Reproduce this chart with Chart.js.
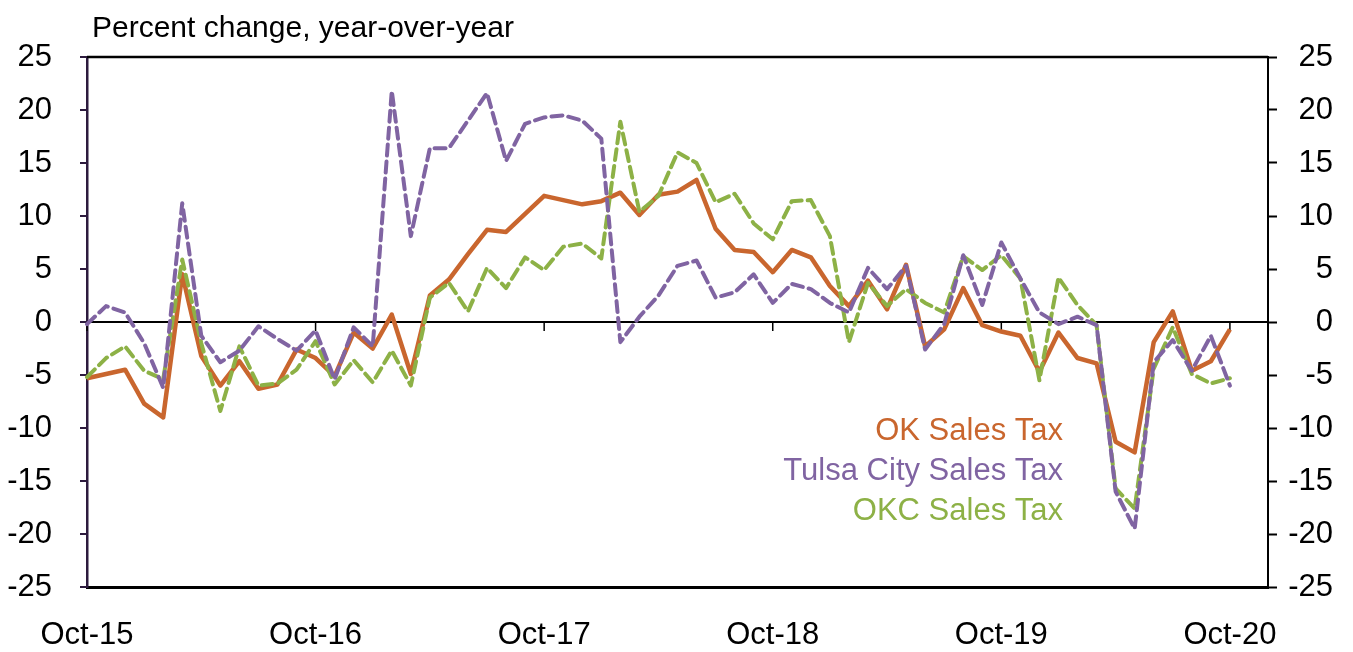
<!DOCTYPE html>
<html><head><meta charset="utf-8">
<script src="https://cdn.jsdelivr.net/npm/chart.js@4.4.0/dist/chart.umd.min.js"></script>
<style>html,body{margin:0;padding:0;background:#fff;}#wrap{width:1353px;height:652px;position:relative}</style>
</head><body><div id="wrap"><canvas id="c" width="1353" height="652"></canvas></div>
<script>
// ---- data ----
const MONTH_NAMES = ['Jan','Feb','Mar','Apr','May','Jun','Jul','Aug','Sep','Oct','Nov','Dec'];
const CATEGORIES = [];
for (let k = 0; k < 63; k++) { const m = (9 + k) % 12; const yr = 15 + Math.floor((9 + k) / 12); CATEGORIES.push(MONTH_NAMES[m] + '-' + yr); }
const SERIES_NAMES = ['OK Sales Tax', 'Tulsa City Sales Tax', 'OKC Sales Tax'];
const OK_SALES = [-5.3,-4.9,-4.5,-7.7,-9.0,4.5,-3.2,-6.0,-3.7,-6.3,-5.9,-2.6,-3.4,-5.1,-1.0,-2.5,0.7,-4.9,2.5,4.0,
  6.4,8.7,8.5,10.2,11.9,11.5,11.1,11.4,12.2,10.1,12.0,12.3,13.4,8.8,6.8,6.6,4.7,6.8,6.1,3.4,
  1.5,3.9,1.2,5.4,-2.3,-0.7,3.2,-0.3,-0.9,-1.3,-4.7,-1.0,-3.4,-3.9,-11.3,-12.3,-1.9,1.0,-4.6,-3.7,-0.7];
const TULSA_SALES = [-0.2,1.5,0.9,-2.0,-6.2,11.2,-1.3,-3.8,-2.7,-0.4,-1.6,-2.7,-0.8,-5.4,-0.5,-2.3,21.8,8.1,16.4,16.4,
  19.0,21.6,15.2,18.7,19.3,19.5,19.0,17.3,-1.9,0.5,2.5,5.3,5.8,2.3,2.8,4.5,1.8,3.6,3.1,1.8,
  0.9,5.1,3.1,5.3,-2.6,-0.2,6.3,1.6,7.5,4.1,0.9,-0.2,0.5,-0.3,-16.0,-19.5,-3.8,-1.7,-4.6,-1.3,-6.0];
const OKC_SALES = [-5.2,-3.4,-2.3,-4.6,-5.4,5.9,-2.0,-8.4,-2.3,-6.0,-5.8,-4.5,-1.8,-5.9,-3.6,-5.7,-2.7,-6.0,2.3,3.7,
  1.0,5.1,3.2,6.1,4.9,7.1,7.4,6.0,18.9,10.4,11.9,16.0,15.0,11.3,12.1,9.3,7.8,11.4,11.5,8.1,
  -1.9,3.7,1.5,3.1,1.8,0.9,6.2,4.9,6.3,4.1,-5.5,4.2,1.6,-0.3,-15.7,-17.6,-4.4,-0.5,-4.9,-5.8,-5.3];
const Y_MIN = -25, Y_MAX = 25, Y_STEP = 5;
const TITLE = 'Percent change, year-over-year';

// ---- styling ----
const COLORS = ['#C9662E', '#8064A2', '#8DB146'];
const FAM = "'Liberation Sans', Arial, sans-serif";
const TSIZE = 31;

const overlay = {
  id: 'overlay',
  beforeDatasetsDraw(chart){
    const {ctx, chartArea: a, scales: {x, y}} = chart;
    ctx.save();
    ctx.strokeStyle = '#000'; ctx.lineWidth = 2.5;
    ctx.beginPath(); ctx.moveTo(a.left, a.top); ctx.lineTo(a.right, a.top); ctx.stroke();
    const y0 = y.getPixelForValue(0);
    ctx.lineWidth = 1.5;
    ctx.beginPath();
    CATEGORIES.forEach((c, i) => {
      if (i % 12 === 0) { const px = x.getPixelForValue(i); ctx.moveTo(px, y0); ctx.lineTo(px, y0 + 9); }
    });
    ctx.stroke();
    ctx.restore();
  },
  afterDraw(chart){
    const {ctx} = chart;
    ctx.save();
    ctx.fillStyle = '#000';
    ctx.font = '30px ' + FAM;
    ctx.textAlign = 'left'; ctx.textBaseline = 'alphabetic';
    ctx.fillText(TITLE, 92, 37);
    ctx.font = '31px ' + FAM;
    ctx.textAlign = 'right';
    const base = [440, 480, 520];
    chart.data.datasets.forEach((ds, i) => {
      ctx.fillStyle = ds.borderColor;
      ctx.fillText(ds.label, 1063, base[i]);
    });
    ctx.restore();
  }
};

new Chart(document.getElementById('c'), {
  type: 'line',
  data: {
    labels: CATEGORIES,
    datasets: [
      {label: SERIES_NAMES[0], data: OK_SALES, borderColor: COLORS[0], borderWidth: 4.5, order: 3},
      {label: SERIES_NAMES[1], data: TULSA_SALES, borderColor: COLORS[1], borderWidth: 4, borderDash: [11, 6], borderCapStyle: 'round', order: 1},
      {label: SERIES_NAMES[2], data: OKC_SALES, borderColor: COLORS[2], borderWidth: 4, borderDash: [11, 6], borderCapStyle: 'round', order: 2}
    ]
  },
  options: {
    responsive: false, animation: false, devicePixelRatio: 1,
    layout: {padding: {left: 0, right: 20, top: 57, bottom: 0}},
    elements: {point: {radius: 0}, line: {tension: 0, fill: false, borderJoinStyle: 'round'}},
    plugins: {legend: {display: false}, tooltip: {enabled: false}, title: {display: false}},
    scales: {
      x: {
        type: 'category', position: 'bottom', offset: false,
        grid: {display: false, drawTicks: false},
        border: {display: true, color: '#000', width: 3},
        ticks: {autoSkip: false, maxRotation: 0, minRotation: 0, padding: 30, color: '#000',
          font: {family: FAM, size: TSIZE},
          callback: (v, i) => (i % 12 === 0 ? CATEGORIES[i] : '')},
        afterFit: s => { s.height = 65; }
      },
      y: {
        position: 'left', min: Y_MIN, max: Y_MAX,
        ticks: {stepSize: Y_STEP, padding: 28, color: '#000', font: {family: FAM, size: TSIZE}},
        grid: {drawOnChartArea: true, drawTicks: true, tickLength: 7, tickColor: '#2D1B3E', tickWidth: 2,
          lineWidth: 2, color: c => (c.tick && c.tick.value === 0 ? '#000' : 'rgba(0,0,0,0)')},
        border: {display: true, color: '#2D1B3E', width: 2.5},
        afterFit: s => { s.width = 87; }
      },
      y2: {
        position: 'right', min: Y_MIN, max: Y_MAX,
        ticks: {stepSize: Y_STEP, crossAlign: 'far', color: '#000', font: {family: FAM, size: TSIZE}},
        grid: {drawOnChartArea: false, drawTicks: true, tickLength: 9, tickColor: '#000', tickWidth: 2},
        border: {display: true, color: '#000', width: 2},
        afterFit: s => { s.width = 65; }
      }
    }
  },
  plugins: [overlay]
});
</script>
</body></html>
